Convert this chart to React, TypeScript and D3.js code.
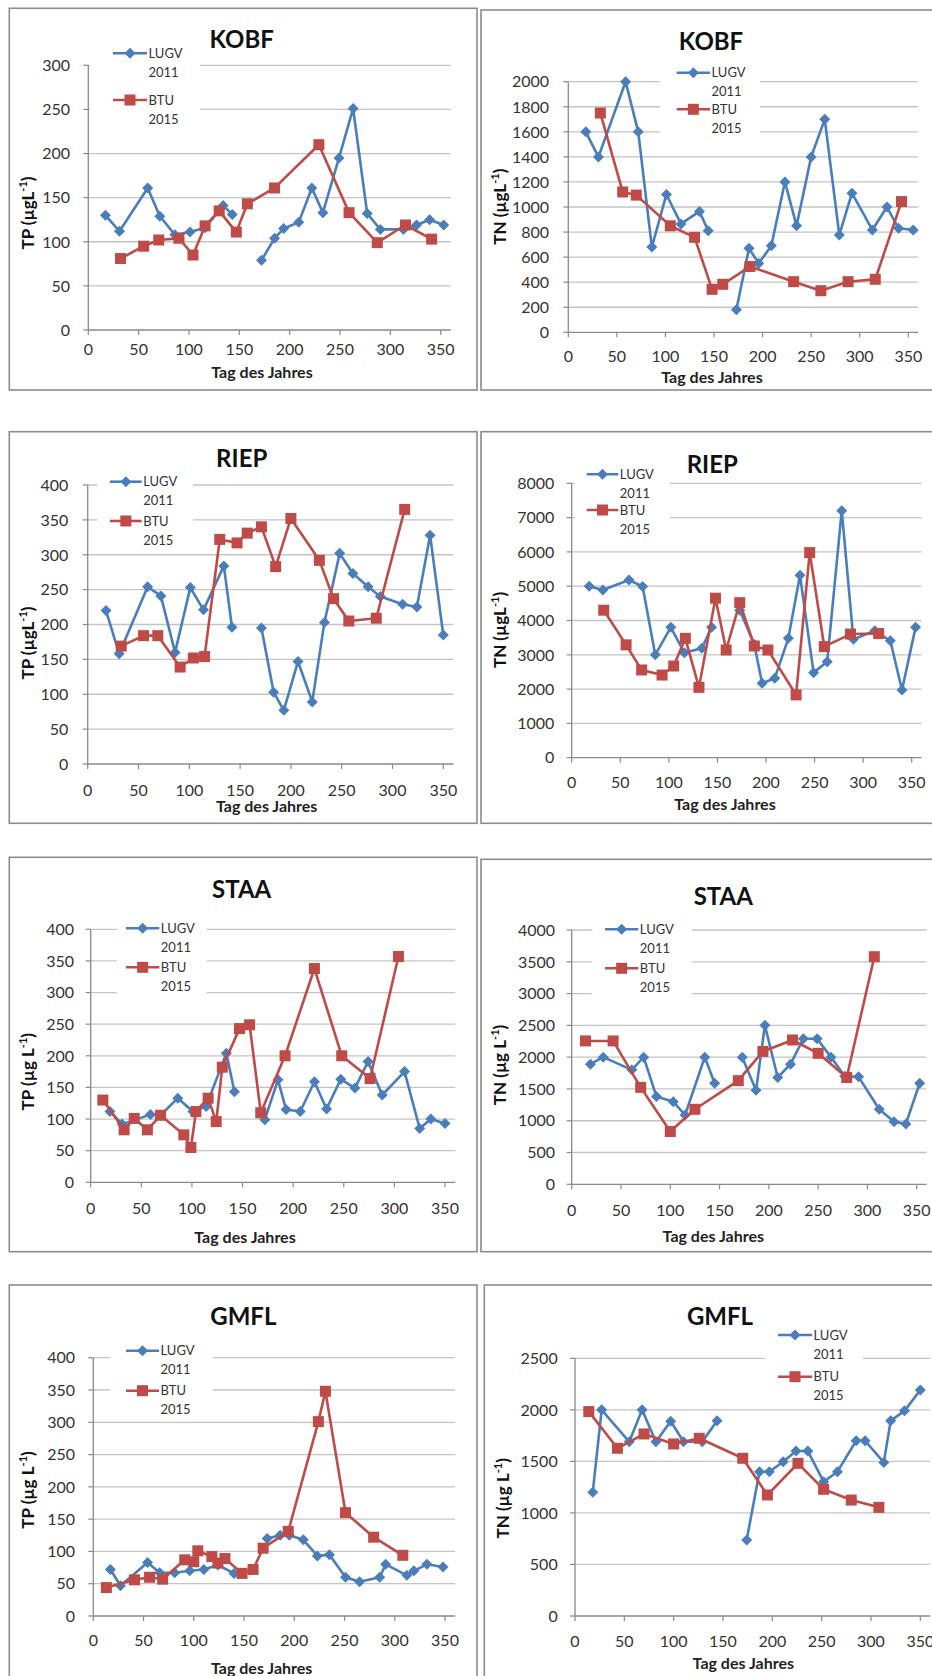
import React from "react";
import * as d3 from "d3";

type Pt = [number, number | null];

const X_TICKS = [0, 50, 100, 150, 200, 250, 300, 350];
const SERIES_NAMES = [["LUGV", "2011"], ["BTU", "2015"]];

// ---- KOBF ----
const KOBF_TP_LUGV: Pt[] = [[17,130],[31,112],[59,161],[71,129],[86,108],[101,111],[116,116],[134,141],[143,131],[158,null],[172,79],[185,104],[194,115],[209,122],[222,161],[233,133],[249,195],[263,251],[277,132],[290,114],[313,114],[326,119],[339,125],[353,119]];
const KOBF_TP_BTU: Pt[] = [[32,81],[55,95],[70,102],[90,104],[104,85],[116,118],[130,135],[147,111],[158,143],[185,161],[229,210],[259,133],[287,99],[315,119],[341,103]];
const KOBF_TN_LUGV: Pt[] = [[18,1600],[31,1400],[59,2000],[72,1600],[86,680],[101,1100],[116,865],[135,965],[144,810],[158,null],[173,180],[186,670],[196,550],[209,690],[223,1200],[235,850],[250,1400],[264,1700],[279,777],[292,1110],[313,817],[328,1000],[340,830],[355,817]];
const KOBF_TN_BTU: Pt[] = [[33,1750],[56,1120],[70,1095],[105,850],[130,758],[148,343],[159,383],[187,525],[232,404],[260,332],[288,404],[316,423],[343,1043]];

// ---- RIEP ----
const RIEP_TP_LUGV: Pt[] = [[18,220],[31,158],[59,254],[72,241],[86,160],[101,253],[114,221],[134,284],[142,196],[158,null],[171,195],[183,103],[193,77],[207,147],[221,89],[233,203],[248,302],[261,273],[276,254],[288,240],[310,229],[324,225],[337,328],[350,185]];
const RIEP_TP_BTU: Pt[] = [[33,169],[55,184],[69,184],[91,139],[104,152],[115,154],[130,322],[147,317],[157,331],[171,340],[185,283],[200,352],[228,292],[242,237],[257,205],[284,209],[312,365]];
const RIEP_TN_LUGV: Pt[] = [[18,5000],[32,4890],[59,5180],[73,4990],[86,3000],[102,3800],[116,3060],[134,3190],[144,3800],[158,null],[173,4300],[188,3300],[196,2170],[209,2315],[223,3480],[235,5320],[249,2480],[263,2800],[278,7200],[290,3450],[312,3700],[328,3410],[340,1975],[354,3800]];
const RIEP_TN_BTU: Pt[] = [[33,4300],[56,3290],[72,2557],[93,2410],[105,2673],[117,3480],[131,2050],[148,4650],[159,3140],[173,4520],[188,3257],[202,3140],[231,1830],[245,5980],[260,3240],[287,3605],[316,3620]];

// ---- STAA ----
const STAA_TP_LUGV: Pt[] = [[19,112],[31,92],[59,107],[69,106],[86,133],[101,112],[114,120],[134,204],[142,143],[158,null],[172,99],[185,162],[193,115],[207,112],[221,159],[233,116],[247,163],[261,149],[274,191],[288,138],[310,175],[325,85],[336,100],[350,93]];
const STAA_TP_BTU: Pt[] = [[12,130],[33,83],[43,101],[56,83],[69,106],[92,75],[99,55],[104,112],[116,133],[124,96],[130,182],[147,243],[157,249],[168,110],[192,200],[221,338],[248,200],[276,164],[304,357]];
const STAA_TN_LUGV: Pt[] = [[19,1890],[32,2000],[61,1800],[73,2000],[86,1380],[103,1300],[115,1090],[135,2000],[145,1590],[158,null],[173,2000],[187,1480],[196,2500],[209,1680],[222,1890],[235,2290],[249,2290],[263,2000],[277,1700],[291,1690],[312,1180],[327,985],[339,950],[353,1590]];
const STAA_TN_BTU: Pt[] = [[14,2255],[42,2255],[70,1525],[100,830],[125,1180],[169,1630],[194,2090],[224,2270],[250,2060],[279,1680],[307,3580]];

// ---- GMFL ----
const GMFL_TP_LUGV: Pt[] = [[17,72],[27,47],[54,83],[66,67],[81,67],[96,70],[110,72],[124,79],[140,66],[158,null],[173,120],[186,125],[195,125],[209,118],[223,93],[235,95],[251,60],[265,53],[285,60],[291,80],[312,63],[319,70],[332,80],[348,76]];
const GMFL_TP_BTU: Pt[] = [[13,44],[41,56],[56,60],[69,57],[91,87],[100,84],[104,101],[118,92],[124,82],[131,89],[148,66],[159,72],[169,105],[194,131],[224,301],[231,348],[251,160],[279,122],[308,94]];
const GMFL_TN_LUGV: Pt[] = [[18,1200],[27,2000],[55,1690],[68,2000],[82,1690],[97,1890],[110,1690],[129,1690],[144,1895],[158,null],[174,737],[187,1400],[197,1400],[211,1497],[224,1600],[236,1600],[252,1303],[266,1400],[285,1700],[294,1700],[313,1490],[320,1895],[334,1990],[350,2193]];
const GMFL_TN_BTU: Pt[] = [[14,1983],[43,1627],[70,1766],[100,1669],[126,1724],[170,1530],[195,1174],[226,1481],[252,1229],[280,1125],[308,1054]];

const BLUE = "#4A7EBB";
const RED = "#BE4B48";
const FONT = "Lato, 'Open Sans', sans-serif";

interface Cfg {
  title: string; yPre: string; yMax: number; yStep: number;
  lugv: Pt[]; btu: Pt[];
  box: [number, number, number, number];
  x0: number; x350: number; y0: number; yTop: number;
  tx: number; ty: number; ylx: number; yly: number; xlx: number; xly: number;
  tickR: number; tickY: number;
  lg: { x1: number; x2: number; y1: number; y2: number; bx: number; bw: number; by: number; bh: number };
}

const PANELS: Cfg[] = [
  { title: "KOBF", yPre: "TP (µgL", yMax: 300, yStep: 50, lugv: KOBF_TP_LUGV, btu: KOBF_TP_BTU,
    box: [9.3, 8.3, 477, 390], x0: 88.3, x350: 440.7, y0: 330, yTop: 65.3,
    tx: 241.7, ty: 47.7, ylx: 28, yly: 213, xlx: 262, xly: 372, tickR: 70, tickY: 349,
    lg: { x1: 113, x2: 147, y1: 53.3, y2: 100, bx: 90, bw: 110, by: 42, bh: 88 } },
  { title: "KOBF", yPre: "TN (µgL", yMax: 2000, yStep: 200, lugv: KOBF_TN_LUGV, btu: KOBF_TN_BTU,
    box: [481, 10, 945, 390], x0: 568.3, x350: 908.3, y0: 332.3, yTop: 81.7,
    tx: 711, ty: 50, ylx: 500, yly: 206.7, xlx: 712, xly: 377, tickR: 549, tickY: 356.7,
    lg: { x1: 676.7, x2: 710, y1: 72.7, y2: 109.3, bx: 660, bw: 100, by: 62, bh: 75 } },
  { title: "RIEP", yPre: "TP (µgL", yMax: 400, yStep: 50, lugv: RIEP_TP_LUGV, btu: RIEP_TP_BTU,
    box: [9.3, 431.7, 477, 823.3], x0: 87.7, x350: 443.3, y0: 764, yTop: 485,
    tx: 241.7, ty: 467.3, ylx: 28.3, yly: 643, xlx: 266.7, xly: 806.7, tickR: 68.3, tickY: 790,
    lg: { x1: 110, x2: 141.7, y1: 481.7, y2: 521, bx: 97, bw: 96, by: 470, bh: 80 } },
  { title: "RIEP", yPre: "TN (µgL", yMax: 8000, yStep: 1000, lugv: RIEP_TN_LUGV, btu: RIEP_TN_BTU,
    box: [481, 431.7, 945, 823.3], x0: 571.7, x350: 911.7, y0: 757.7, yTop: 483.3,
    tx: 712.3, ty: 472.7, ylx: 500, yly: 630, xlx: 725, xly: 804.3, tickR: 554.3, tickY: 782.7,
    lg: { x1: 586.7, x2: 618.3, y1: 474.3, y2: 510, bx: 575, bw: 95, by: 463, bh: 76 } },
  { title: "STAA", yPre: "TP (µg L", yMax: 400, yStep: 50, lugv: STAA_TP_LUGV, btu: STAA_TP_BTU,
    box: [9.3, 857.3, 477, 1251.7], x0: 90.7, x350: 445, y0: 1182.3, yTop: 929.3,
    tx: 241.7, ty: 897.7, ylx: 28.3, yly: 1071.7, xlx: 245, xly: 1237.3, tickR: 74, tickY: 1208.3,
    lg: { x1: 126, x2: 159.3, y1: 928.3, y2: 967.3, bx: 116.7, bw: 90, by: 917, bh: 79 } },
  { title: "STAA", yPre: "TN (µg L", yMax: 4000, yStep: 500, lugv: STAA_TN_LUGV, btu: STAA_TN_BTU,
    box: [481, 859.3, 945, 1251.7], x0: 571.7, x350: 916.7, y0: 1184.3, yTop: 930,
    tx: 723.3, ty: 905, ylx: 500, yly: 1065, xlx: 713.3, xly: 1236.7, tickR: 555, tickY: 1210,
    lg: { x1: 605, x2: 638.3, y1: 929.3, y2: 968.3, bx: 591.7, bw: 100, by: 918, bh: 78 } },
  { title: "GMFL", yPre: "TP (µg L", yMax: 400, yStep: 50, lugv: GMFL_TP_LUGV, btu: GMFL_TP_BTU,
    box: [9.3, 1285, 477, 1710], x0: 93.3, x350: 445, y0: 1616, yTop: 1357.7,
    tx: 243.3, ty: 1325, ylx: 28.3, yly: 1490, xlx: 261.7, xly: 1668, tickR: 75, tickY: 1640,
    lg: { x1: 126, x2: 159, y1: 1350.7, y2: 1390.7, bx: 110, bw: 103, by: 1340, bh: 79 } },
  { title: "GMFL", yPre: "TN (µg L", yMax: 2500, yStep: 500, lugv: GMFL_TN_LUGV, btu: GMFL_TN_BTU,
    box: [484.3, 1285, 945, 1710], x0: 575, x350: 920.3, y0: 1616, yTop: 1358.3,
    tx: 720, ty: 1325, ylx: 503.3, yly: 1498.3, xlx: 743.3, xly: 1663.3, tickR: 557.7, tickY: 1641.7,
    lg: { x1: 778, x2: 812, y1: 1335, y2: 1376.7, bx: 765, bw: 98, by: 1324, bh: 81 } },
];

function diamond(cx: number, cy: number, r: number) {
  return `M${cx},${cy - r}L${cx + r},${cy}L${cx},${cy + r}L${cx - r},${cy}Z`;
}

function Marker({ kind, cx, cy }: { kind: number; cx: number; cy: number }) {
  if (kind === 0) return <path d={diamond(cx, cy, 5.5)} fill={BLUE} />;
  return <rect x={cx - 5.5} y={cy - 5.5} width={11} height={11} fill={RED} />;
}

function Panel({ c }: { c: Cfg }) {
  const x = d3.scaleLinear().domain([0, 350]).range([c.x0, c.x350]);
  const y = d3.scaleLinear().domain([0, c.yMax]).range([c.y0, c.yTop]);
  const xR = x(360);
  const yTicks = d3.range(0, c.yMax + c.yStep / 2, c.yStep);
  const line = d3
    .line<Pt>()
    .defined((d) => d[1] != null)
    .x((d) => x(d[0]))
    .y((d) => y(d[1] as number));
  const series = [c.lugv, c.btu];
  const colors = [BLUE, RED];
  const [bx, by, bx2, by2] = c.box;
  return (
    <g>
      <rect x={bx} y={by} width={bx2 - bx} height={by2 - by} fill="#fff" stroke="#8c8c8c" strokeWidth={1.6} />
      {yTicks.map((t) => (
        <g key={"g" + t}>
          {t > 0 && <line x1={x(0)} x2={xR} y1={y(t)} y2={y(t)} stroke="#c4c4c4" strokeWidth={1.3} />}
          <line x1={x(0) - 5} x2={x(0)} y1={y(t)} y2={y(t)} stroke="#8a8a8a" strokeWidth={1.2} />
          <text x={c.tickR} y={y(t)} dy="0.36em" textAnchor="end" fontSize={16} fill="#333" fontFamily={FONT}>
            {t}
          </text>
        </g>
      ))}
      <line x1={x(0)} x2={x(0)} y1={y(0)} y2={c.yTop} stroke="#8a8a8a" strokeWidth={1.3} />
      <line x1={x(0)} x2={xR} y1={y(0)} y2={y(0)} stroke="#8a8a8a" strokeWidth={1.3} />
      {X_TICKS.map((t) => (
        <g key={"x" + t}>
          <line x1={x(t)} x2={x(t)} y1={y(0)} y2={y(0) + 5} stroke="#8a8a8a" strokeWidth={1.2} />
          <text x={x(t)} y={c.tickY} dy="0.36em" textAnchor="middle" fontSize={16} fill="#333" fontFamily={FONT}>
            {t}
          </text>
        </g>
      ))}
      {series.map((s, i) => (
        <g key={"s" + i}>
          <path d={line(s) || ""} fill="none" stroke={colors[i]} strokeWidth={2.6} strokeLinejoin="round" />
          {s.filter((d) => d[1] != null).map((d, j) => (
            <Marker key={j} kind={i} cx={x(d[0])} cy={y(d[1] as number)} />
          ))}
        </g>
      ))}
      <text x={c.tx} y={c.ty} textAnchor="middle" fontSize={24} fontWeight="bold" fill="#111" fontFamily={FONT}>
        {c.title}
      </text>
      <text transform={`translate(${c.ylx},${c.yly}) rotate(-90)`} dy="0.36em" textAnchor="middle" fontSize={17} fontWeight="bold" fill="#111" fontFamily={FONT}>
        {c.yPre}
        <tspan fontSize={11} dy={-7}>-1</tspan>
        <tspan dy={7}>)</tspan>
      </text>
      <text x={c.xlx} y={c.xly} dy="0.36em" textAnchor="middle" fontSize={16} fontWeight="bold" fill="#222" fontFamily={FONT}>
        Tag des Jahres
      </text>
      <rect x={c.lg.bx} y={c.lg.by} width={c.lg.bw} height={c.lg.bh} fill="#fff" />
      {[c.lg.y1, c.lg.y2].map((ly, i) => (
        <g key={"l" + i}>
          <line x1={c.lg.x1} x2={c.lg.x2} y1={ly} y2={ly} stroke={colors[i]} strokeWidth={2.6} />
          <Marker kind={i} cx={(c.lg.x1 + c.lg.x2) / 2} cy={ly} />
          <text x={c.lg.x2 + 1.5} y={ly} dy="0.36em" fontSize={13} fill="#333" fontFamily={FONT}>
            {SERIES_NAMES[i][0]}
          </text>
          <text x={c.lg.x2 + 1.5} y={ly + 19} dy="0.36em" fontSize={13} fill="#333" fontFamily={FONT}>
            {SERIES_NAMES[i][1]}
          </text>
        </g>
      ))}
    </g>
  );
}

export default function App() {
  return (
    <svg
      width={932}
      height={1676}
      viewBox="0 0 932 1676"
      style={{ position: "absolute", left: 0, top: 0, background: "#fff" }}
    >
      <rect x={0} y={0} width={932} height={1676} fill="#fff" />
      {PANELS.map((c, i) => (
        <Panel key={i} c={c} />
      ))}
    </svg>
  );
}
